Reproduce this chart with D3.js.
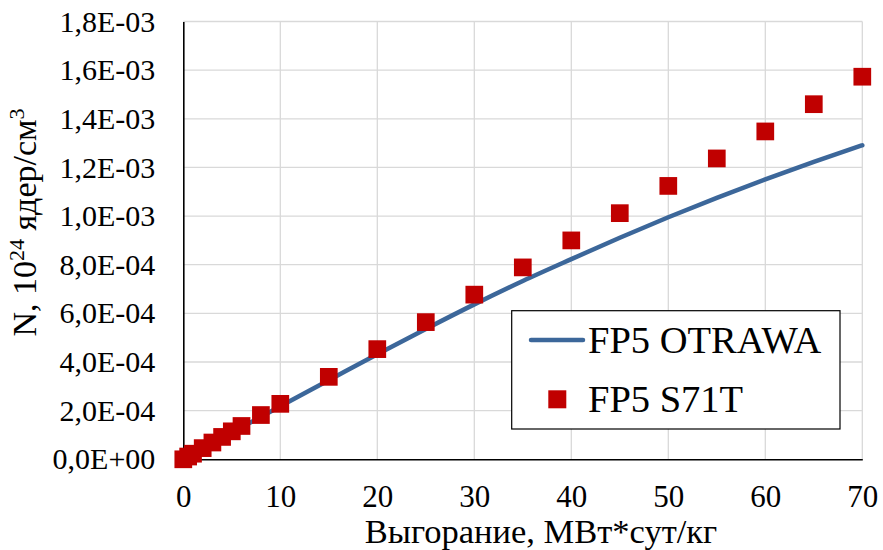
<!DOCTYPE html>
<html><head><meta charset="utf-8">
<script src="https://cdn.jsdelivr.net/npm/d3@7"></script>
<style>body{margin:0;background:#fff}svg{display:block}</style>
</head><body><svg id="c" width="883" height="550"></svg>
<script>
// ---- data ----
const burnupLine = [0, 5, 10, 15, 20, 25, 30, 35, 40, 45, 50, 55, 60, 65, 70];
const otrawa = [0, 1.10e-4, 2.18e-4, 3.25e-4, 4.32e-4, 5.36e-4, 6.37e-4, 7.33e-4, 8.23e-4, 9.11e-4, 9.95e-4, 1.075e-3, 1.151e-3, 1.223e-3, 1.291e-3];
const burnupPts = [0, 0.5, 1, 2, 3, 4, 5, 6, 8, 10, 15, 20, 25, 30, 35, 40, 45, 50, 55, 60, 65, 70];
const s71t = [0, 1.14e-5, 2.3e-5, 4.6e-5, 6.9e-5, 9.2e-5, 1.15e-4, 1.37e-4, 1.82e-4, 2.28e-4, 3.39e-4, 4.53e-4, 5.64e-4, 6.77e-4, 7.89e-4, 9.0e-4, 1.012e-3, 1.124e-3, 1.237e-3, 1.348e-3, 1.46e-3, 1.573e-3];
const xTicks = [0, 10, 20, 30, 40, 50, 60, 70];
const yTicks = [0, 2e-4, 4e-4, 6e-4, 8e-4, 1.0e-3, 1.2e-3, 1.4e-3, 1.6e-3, 1.8e-3];
const seriesNames = ["FP5 OTRAWA", "FP5 S71T"];
const xTitle = "Выгорание, МВт*сут/кг";

// ---- layout ----
const svg = d3.select("#c");
const L = 183.3, R = 862.3, T = 21.5, B = 459.3;
const x = d3.scaleLinear().domain([0, 70]).range([L, R]);
const y = d3.scaleLinear().domain([0, 1.8e-3]).range([B, T]);
const FONT = '"Liberation Serif"';
const lineColor = "#3C679A", ptColor = "#C00000", gridColor = "#D9D9D9";

function fmt(v) {
  const [m, e] = v.toExponential(1).split("e");
  const sign = e[0] === "-" ? "-" : "+";
  const ex = String(Math.abs(+e)).padStart(2, "0");
  return m.replace(".", ",") + "E" + sign + ex;
}

// grid
svg.append("g").selectAll("line").data(yTicks.slice(1)).join("line")
  .attr("x1", L).attr("x2", R).attr("y1", d => y(d)).attr("y2", d => y(d))
  .attr("stroke", gridColor).attr("stroke-width", 1.3);
svg.append("g").selectAll("line").data(xTicks.slice(1)).join("line")
  .attr("y1", T).attr("y2", B).attr("x1", d => x(d)).attr("x2", d => x(d))
  .attr("stroke", gridColor).attr("stroke-width", 1.3);

// line series
svg.append("path").datum(burnupLine.map((b, i) => [b, otrawa[i]]))
  .attr("fill", "none").attr("stroke", lineColor).attr("stroke-width", 4.5)
  .attr("stroke-linecap", "round")
  .attr("d", d3.line().x(d => x(d[0])).y(d => y(d[1])).curve(d3.curveMonotoneX));

// axes
const ya = svg.append("g").attr("transform", `translate(${L},0)`)
  .call(d3.axisLeft(y).tickValues(yTicks).tickFormat(fmt).tickSize(0).tickPadding(28));
ya.select(".domain").attr("stroke", "#000").attr("stroke-width", 1.6);
ya.selectAll("text").style("font-family", FONT).style("font-size", "30px").attr("fill", "#000");

const xa = svg.append("g").attr("transform", `translate(0,${B})`)
  .call(d3.axisBottom(x).tickValues(xTicks).tickFormat(d3.format("d")).tickSize(0).tickPadding(26));
xa.select(".domain").attr("stroke", "#000").attr("stroke-width", 1.6);
xa.selectAll("text").style("font-family", FONT).style("font-size", "31px").attr("fill", "#000");

// points
const sq = 17.7;
svg.append("g").selectAll("rect").data(burnupPts.map((b, i) => [b, s71t[i]])).join("rect")
  .attr("x", d => x(d[0]) - sq / 2).attr("y", d => y(d[1]) - sq / 2)
  .attr("width", sq).attr("height", sq).attr("fill", ptColor);

// axis titles
svg.append("text").attr("x", 541).attr("y", 543).attr("text-anchor", "middle")
  .style("font-family", FONT).style("font-size", "34.5px").text(xTitle);

const yt = svg.append("text").attr("transform", "translate(36,222.5) rotate(-90)")
  .attr("text-anchor", "middle").style("font-family", FONT).style("font-size", "34px");
yt.append("tspan").text("N, 10");
yt.append("tspan").style("font-size", "22px").attr("dy", -12).text("24");
yt.append("tspan").attr("dy", 12).text(" ядер/см");
yt.append("tspan").style("font-size", "22px").attr("dy", -12).text("3");

// legend
const lg = svg.append("g");
lg.append("rect").attr("x", 511.7).attr("y", 310.7).attr("width", 328.3).attr("height", 118.3)
  .attr("fill", "#fff").attr("stroke", "#000").attr("stroke-width", 1.2);
lg.append("line").attr("x1", 531).attr("x2", 583).attr("y1", 340).attr("y2", 340)
  .attr("stroke", lineColor).attr("stroke-width", 4.5).attr("stroke-linecap", "round");
lg.append("text").attr("x", 588).attr("y", 353).style("font-family", FONT).style("font-size", "38.5px").text(seriesNames[0]);
lg.append("rect").attr("x", 557.3 - 9).attr("y", 399.3 - 9).attr("width", 18).attr("height", 18).attr("fill", ptColor);
lg.append("text").attr("x", 588).attr("y", 411.7).style("font-family", FONT).style("font-size", "38.5px").text(seriesNames[1]);
</script>
</body></html>
